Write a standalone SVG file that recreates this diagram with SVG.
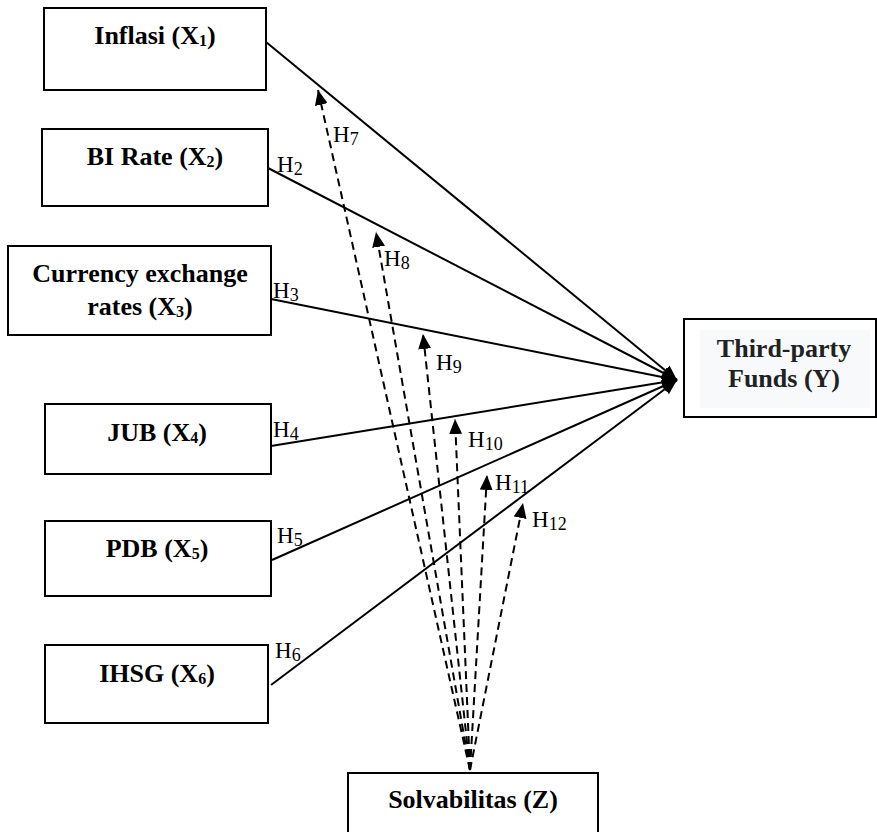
<svg xmlns="http://www.w3.org/2000/svg" width="877" height="832" viewBox="0 0 877 832">
<style>
.box{fill:#fff;stroke:#000;stroke-width:2}
.lbl{font-family:"Liberation Serif","Times New Roman",serif;font-weight:bold;font-size:26px;fill:#000;text-anchor:middle}
.sub{font-size:16px}
.h{font-family:"Liberation Serif","Times New Roman",serif;font-size:23px;fill:#000}
.hs{font-size:18px}
.solid{stroke:#000;stroke-width:2;fill:none}
.dash{stroke:#000;stroke-width:2;fill:none;stroke-dasharray:8 5}
</style>
<defs>
<marker id="arr" markerUnits="userSpaceOnUse" viewBox="0 0 15 13" refX="15" refY="6.5" markerWidth="15" markerHeight="13" orient="auto">
<path d="M0,0 L15,6.5 L0,13 z" fill="#000"/>
</marker>
</defs>
<rect width="877" height="832" fill="#fff"/>

<g id="connectors">
<line class="solid" x1="266" y1="42" x2="677" y2="380" marker-end="url(#arr)"/>
<line class="solid" x1="268" y1="168" x2="677" y2="380" marker-end="url(#arr)"/>
<line class="solid" x1="271" y1="299" x2="677" y2="380" marker-end="url(#arr)"/>
<line class="solid" x1="271" y1="446" x2="677" y2="380" marker-end="url(#arr)"/>
<line class="solid" x1="272" y1="560" x2="677" y2="380" marker-end="url(#arr)"/>
<line class="solid" x1="271" y1="685" x2="677" y2="380" marker-end="url(#arr)"/>
<line class="dash" x1="470" y1="770" x2="318" y2="90" marker-end="url(#arr)"/>
<line class="dash" x1="470" y1="770" x2="376" y2="232" marker-end="url(#arr)"/>
<line class="dash" x1="470" y1="770" x2="423" y2="334" marker-end="url(#arr)"/>
<line class="dash" x1="470" y1="770" x2="455" y2="419" marker-end="url(#arr)"/>
<line class="dash" x1="470" y1="770" x2="487" y2="475" marker-end="url(#arr)"/>
<line class="dash" x1="470" y1="770" x2="523" y2="503" marker-end="url(#arr)"/>
<text class="h" x="333" y="142">H<tspan class="hs" dy="3">7</tspan></text>
<text class="h" x="277" y="172">H<tspan class="hs" dy="3">2</tspan></text>
<text class="h" x="384" y="266">H<tspan class="hs" dy="3">8</tspan></text>
<text class="h" x="273" y="298">H<tspan class="hs" dy="3">3</tspan></text>
<text class="h" x="436" y="370">H<tspan class="hs" dy="3">9</tspan></text>
<text class="h" x="273" y="437">H<tspan class="hs" dy="3">4</tspan></text>
<text class="h" x="468" y="447">H<tspan class="hs" dy="3">10</tspan></text>
<text class="h" x="495" y="490">H<tspan class="hs" dy="3">11</tspan></text>
<text class="h" x="532" y="527">H<tspan class="hs" dy="3">12</tspan></text>
<text class="h" x="277" y="543">H<tspan class="hs" dy="3">5</tspan></text>
<text class="h" x="275" y="658">H<tspan class="hs" dy="3">6</tspan></text>
</g>

<g id="x1">
<rect class="box" x="44" y="8" width="222" height="82"/>
<text class="lbl" x="155" y="44">Inflasi (X<tspan class="sub" dy="2">1</tspan><tspan dy="-2">)</tspan></text>
</g>
<g id="x2">
<rect class="box" x="42" y="129" width="226" height="77"/>
<text class="lbl" x="155" y="165">BI Rate (X<tspan class="sub" dy="2">2</tspan><tspan dy="-2">)</tspan></text>
</g>
<g id="x3">
<rect class="box" x="8" y="246" width="263" height="89"/>
<text class="lbl" x="140" y="282">Currency exchange</text>
<text class="lbl" x="140" y="315">rates (X<tspan class="sub" dy="2">3</tspan><tspan dy="-2">)</tspan></text>
</g>
<g id="x4">
<rect class="box" x="45" y="404" width="226" height="70"/>
<text class="lbl" x="157" y="441">JUB (X<tspan class="sub" dy="2">4</tspan><tspan dy="-2">)</tspan></text>
</g>
<g id="x5">
<rect class="box" x="45" y="521" width="226" height="75"/>
<text class="lbl" x="157" y="557">PDB (X<tspan class="sub" dy="2">5</tspan><tspan dy="-2">)</tspan></text>
</g>
<g id="x6">
<rect class="box" x="45" y="645" width="223" height="78"/>
<text class="lbl" x="157" y="682">IHSG (X<tspan class="sub" dy="2">6</tspan><tspan dy="-2">)</tspan></text>
</g>
<g id="y">
<rect class="box" x="684" y="319" width="192" height="98"/>
<rect x="700" y="330" width="170" height="78" fill="#f8f9fa"/>
<text class="lbl" x="784" y="357" style="fill:#202122;font-size:26px">Third-party</text>
<text class="lbl" x="784" y="387" style="fill:#202122;font-size:26px">Funds (Y)</text>
</g>
<g id="z">
<rect class="box" x="348" y="773" width="250" height="70"/>
<text class="lbl" x="473" y="808">Solvabilitas (Z)</text>
</g>
</svg>
